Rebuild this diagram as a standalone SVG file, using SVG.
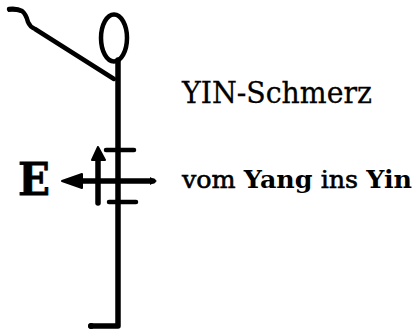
<svg xmlns="http://www.w3.org/2000/svg" width="415" height="330" viewBox="0 0 415 330">
<defs>
<style>
.ln{fill:none;stroke:#000;stroke-linecap:round;stroke-linejoin:round}
.t{fill:#000}
</style>
</defs>
<rect width="415" height="330" fill="#fff"/>
<g id="figure">
<path class="ln" d="M9,9 Q17,8 22,11 Q26,14 28,22 Q30,27 35,29 L114,79" stroke-width="4.5"/>
<path d="M7,9 Q14,5 22,10 L21,13 Q14,11 8,12 Z" fill="#000"/>
<ellipse class="ln" cx="114" cy="38" rx="13" ry="23.5" stroke-width="4.5"/>
<path class="ln" d="M118,60 L118,326 L91,326" stroke-width="5.5"/>
<circle cx="91" cy="326" r="3" fill="#000"/>
</g>
<g id="connectors">
<path class="ln" d="M78,181 L153,181" stroke-width="5.5"/>
<path d="M62,181 L82,174 L82,188 Z" fill="#000" stroke="#000" stroke-width="2" stroke-linejoin="round"/>
<path d="M157,181 L150,177 L150,185 Z" fill="#000"/>
<path class="ln" d="M98,203 L98,158" stroke-width="5.5"/>
<path d="M98,147 L92,160 L105,160 Z" fill="#000" stroke="#000" stroke-width="2" stroke-linejoin="round"/>
<path class="ln" d="M106,150 L134,150" stroke-width="4.5"/>
<path class="ln" d="M109,202 L136,202" stroke-width="4.5"/>
</g>
<g id="label-E">
<text class="t" x="18" y="195" font-family="'DejaVu Serif', 'Liberation Serif', serif" font-size="45" font-weight="bold" stroke="#000" stroke-width="0.8" textLength="32" lengthAdjust="spacingAndGlyphs">E</text>
</g>
<g id="label-yin">
<text class="t" x="182" y="103" font-family="'DejaVu Serif', 'Liberation Serif', serif" font-size="29" stroke="#000" stroke-width="0.3" textLength="190" lengthAdjust="spacingAndGlyphs">YIN-Schmerz</text>
</g>
<g id="label-yang">
<text class="t" x="182" y="188" font-family="'DejaVu Serif', 'Liberation Serif', serif" font-size="25" textLength="230" lengthAdjust="spacingAndGlyphs"><tspan stroke="#000" stroke-width="0.6">vom </tspan><tspan font-weight="bold">Yang</tspan><tspan stroke="#000" stroke-width="0.6"> ins </tspan><tspan font-weight="bold">Yin</tspan></text>
</g>
</svg>
